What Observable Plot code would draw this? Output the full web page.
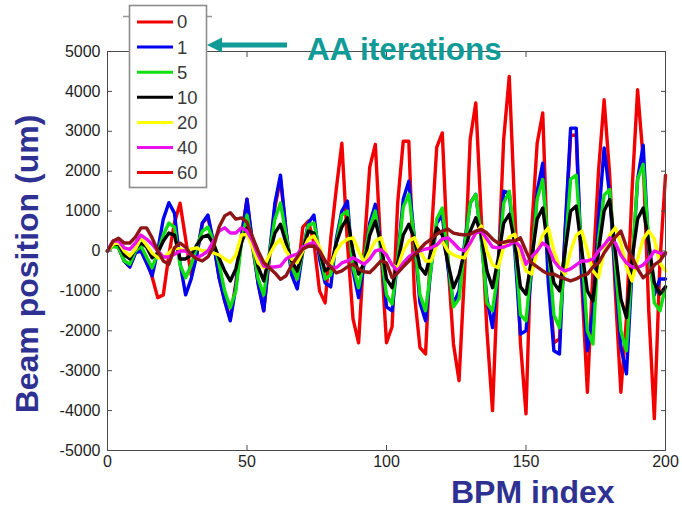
<!DOCTYPE html>
<html><head><meta charset="utf-8">
<script src="https://cdn.jsdelivr.net/npm/d3@7"></script>
<script src="https://cdn.jsdelivr.net/npm/@observablehq/plot@0.6"></script>
<style>
html,body{margin:0;padding:0;background:#fff;}
#wrap{position:relative;width:682px;height:509px;overflow:hidden;font-family:"Liberation Sans",Arial,sans-serif;}
#wrap > svg{position:absolute;left:0;top:0;}
</style></head><body><div id="wrap"></div>
<script>
// BPM index (x)
const bpm = [
  0, 2, 4, 6, 8, 10, 12, 14, 16, 18,
  20, 22, 24, 26, 28, 30, 32, 34, 36, 38,
  40, 42, 44, 46, 48, 50, 52, 54, 56, 58,
  60, 62, 64, 66, 68, 70, 72, 74, 76, 78,
  80, 82, 84, 86, 88, 90, 92, 94, 96, 98,
  100, 102, 104, 106, 108, 110, 112, 114, 116, 118,
  120, 122, 124, 126, 128, 130, 132, 134, 136, 138,
  140, 142, 144, 146, 148, 150, 152, 154, 156, 158,
  160, 162, 164, 166, 168, 170, 172, 174, 176, 178,
  180, 182, 184, 186, 188, 190, 192, 194, 196, 198,
  200];
// Beam position (um) after N AA iterations
const pos0 = [
  0, 170, 80, -250, -400, -50, 50, -200, -650, -1170,
  -1100, -100, 700, 1200, 300, -600, -100, 700, 850, 200,
  -650, -1250, -1700, -800, 400, 1300, 100, -800, -1500, -200,
  1100, 1800, 500, -500, -700, 600, 750, 200, -1000, -1300,
  300, 1550, 2700, 200, -1700, -2300, 80, 2100, 2670, 0,
  -2300, -1900, 1200, 2750, 2750, -1080, -2420, -2580, 300, 2600,
  2960, -250, -2330, -3250, -500, 2800, 3710, 800, -2000, -4000,
  -500, 2800, 4375, 1000, -2300, -4080, 500, 2700, 3460, -600,
  -2300, -2200, 400, 2900, 2900, -800, -3540, -500, 2000, 3790,
  1900, -1000, -3540, -1700, 1500, 4040, 2300, -1500, -4200, -300,
  1900];
const pos1 = [
  0, 170, 80, -250, -400, -50, 0, -300, -625, 0,
  800, 1210, 950, -300, -1100, -700, -100, 700, 900, 200,
  -670, -1250, -1750, -900, 300, 1300, 200, -830, -1500, -100,
  1200, 1900, 500, -600, -950, 0, 700, 900, -200, -800,
  -900, 300, 1000, 1250, -500, -1170, -300, 700, 1170, 100,
  -1400, -1500, -200, 1300, 1750, 300, -1300, -1750, -400, 700,
  900, -400, -1330, -1000, 200, 1200, 1420, 300, -1200, -1920,
  -500, 1500, 1450, 0, -2080, -2000, -500, 1500, 2200, -800,
  -2500, -2580, 500, 3080, 3080, -600, -2500, -1500, 800, 2580,
  1400, -600, -2400, -3080, -500, 1800, 2650, 0, -1100, -700,
  -700];
const pos5 = [
  0, 125, 80, -250, -330, 0, 125, -150, -420, -50,
  400, 700, 600, -350, -670, -350, 100, 500, 600, 250,
  -330, -1000, -1420, -1000, 200, 900, 150, -700, -1100, -100,
  800, 1200, 400, -400, -700, 0, 650, 700, 0, -700,
  -600, 200, 900, 1000, -400, -920, -200, 600, 1000, 0,
  -1100, -1330, -200, 1100, 1420, 300, -1100, -1500, -400, 800,
  1080, -200, -1400, -1200, 100, 1200, 1420, 300, -1300, -1500,
  -500, 1200, 1500, 200, -1600, -1750, -300, 1300, 1790, 100,
  -1600, -1920, 0, 1800, 1900, 0, -2000, -2330, 300, 1400,
  1540, -300, -2000, -2500, -300, 1800, 2170, 200, -1300, -1500,
  -900];
const pos10 = [
  0, 180, 170, -100, -200, 50, 210, 100, -170, -50,
  250, 450, 400, -200, -200, -100, 150, 350, 400, 170,
  -170, -500, -750, -450, 200, 580, 200, -400, -750, -100,
  450, 670, 200, -250, -500, 0, 500, 450, 0, -500,
  -400, 200, 600, 830, 0, -580, -300, 400, 750, 200,
  -700, -920, -300, 400, 670, 300, -400, -580, 0, 580,
  400, -300, -920, -600, 0, 500, 830, 400, -500, -920,
  -200, 700, 920, 200, -900, -1080, -200, 800, 1080, 0,
  -800, -1000, 0, 1000, 1125, 0, -1000, -1250, 0, 1000,
  1290, 0, -1200, -1670, -200, 800, 1080, 200, -800, -1080,
  -900];
const pos20 = [
  0, 170, 210, 0, -125, 50, 320, 150, -50, -170,
  -170, -50, 80, 50, 0, 50, 80, 0, 0, -50,
  -100, -200, -280, -100, 400, 420, 100, -300, -420, -100,
  150, 300, 0, -200, -290, 0, 300, 375, 100, -250,
  -375, 0, 200, 300, 330, 0, -290, 0, 250, 330,
  -100, -350, -420, 0, 250, 330, 0, -250, -250, 150,
  250, 0, -100, -150, -170, 200, 450, 625, 0, -350,
  -420, 100, 350, 420, -100, -500, -580, 0, 400, 580,
  0, -400, -580, 0, 400, 500, 0, -500, -670, 0,
  400, 580, 200, -400, -750, -200, 300, 500, 300, -300,
  -500];
const pos40 = [
  0, 250, 250, 80, 40, 200, 400, 300, 170, 0,
  -150, -150, -80, 0, 0, -100, -170, -100, 0, 250,
  500, 580, 450, 450, 580, 500, 250, -100, -375, -400,
  -400, -375, -200, -120, -80, 100, 170, 210, 0, -250,
  -400, -420, -300, -250, -170, -250, -330, -200, 0, 40,
  -100, -350, -500, -300, -150, -50, 0, 50, 80, 150,
  300, 330, 200, 50, 0, 200, 450, 500, 300, 100,
  80, 100, 150, 250, 100, -330, -150, 0, 200, 100,
  -250, -420, -500, -450, -350, -250, -250, -200, 0, 150,
  330, 200, -100, -300, -400, -420, -350, -200, 0, -50,
  -80];
const pos60 = [
  0, 250, 320, 200, 200, 350, 580, 580, 330, 0,
  -250, -330, 80, 200, 100, -100, -200, -250, -150, 100,
  600, 880, 960, 800, 830, 720, 350, 0, -290, -420,
  -550, -710, -620, -350, -150, 50, 120, 125, 0, -250,
  -400, -550, -500, -400, -330, -450, -520, -540, -400, -250,
  -300, -670, -550, -400, -250, -100, 50, 200, 300, 420,
  500, 550, 450, 420, 400, 420, 500, 540, 450, 300,
  200, 220, 250, 250, 330, 0, -300, -400, -500, -580,
  -580, -650, -700, -750, -700, -620, -580, -400, -300, -50,
  150, 350, 500, 100, -150, -450, -670, -550, -350, -250,
  -40];

const seriesNames = ["0", "1", "5", "10", "20", "40", "60"];
const seriesValues = [pos0, pos1, pos5, pos10, pos20, pos40, pos60];
const lineColors = ["#f20000", "#0000f0", "#10e010", "#000000", "#ffff00", "#ec10ec", "#8e1616"];
const legendColors = ["#f20000", "#0000f0", "#10e010", "#000000", "#ffff00", "#ec10ec", "#f20000"];
const xTicks = [0, 50, 100, 150, 200];
const yTicks = [-5000, -4000, -3000, -2000, -1000, 0, 1000, 2000, 3000, 4000, 5000];

const xLabel = "BPM index";
const yLabel = "Beam position (um)";
const noteText = "AA iterations";

const tables = seriesNames.map((name, i) =>
  bpm.map((b, j) => ({bpm: b, pos: seriesValues[i][j], series: name})));

const font = '"Liberation Sans", Arial, sans-serif';
const plot = Plot.plot({
  width: 682, height: 509,
  marginTop: 51, marginRight: 17, marginBottom: 59, marginLeft: 107,
  style: {fontFamily: font, fontSize: "16px", color: "#1e1e1e", background: "transparent", overflow: "visible"},
  x: {domain: [0, 200]},
  y: {domain: [-5000, 5000]},
  marks: [
    ...tables.map((t, i) => Plot.line(t, {x: "bpm", y: "pos", stroke: lineColors[i], strokeWidth: 3.4, strokeLinejoin: "round"})),
    Plot.frame({stroke: "#4a4a4a", strokeWidth: 1}),
    Plot.axisX({anchor: "bottom", ticks: xTicks, tickSize: -5, tickPadding: 10, label: null, stroke: "#4a4a4a"}),
    Plot.axisX({anchor: "top", ticks: xTicks, tickSize: -5, tickFormat: () => "", label: null, stroke: "#4a4a4a"}),
    Plot.axisY({anchor: "left", ticks: yTicks, tickSize: -5, tickPadding: 12, tickFormat: d => String(d), label: null, stroke: "#4a4a4a"}),
    Plot.axisY({anchor: "right", ticks: yTicks, tickSize: -5, tickFormat: () => "", label: null, stroke: "#4a4a4a"})
  ]
});
document.getElementById("wrap").appendChild(plot);

// overlay: legend, annotation, axis titles
const ov = d3.select("#wrap").append("svg").attr("width", 682).attr("height", 509)
  .style("position", "absolute").style("left", "0px").style("top", "0px");

const lg = ov.append("g");
lg.append("line").attr("x1", 123).attr("x2", 212).attr("y1", 16.5).attr("y2", 16.5)
  .attr("stroke", "#999").attr("stroke-width", 1.5);
lg.append("rect").attr("x", 129.5).attr("y", 5.5).attr("width", 77).attr("height", 182)
  .attr("fill", "#fff").attr("stroke", "#8c8c8c").attr("stroke-width", 1.6);
seriesNames.forEach((name, i) => {
  const y = 22 + i * 25.1;
  lg.append("line").attr("x1", 137).attr("x2", 173).attr("y1", y).attr("y2", y)
    .attr("stroke", legendColors[i]).attr("stroke-width", 3);
  lg.append("text").attr("x", 177).attr("y", y).attr("dy", "0.35em")
    .attr("font-family", font).attr("font-size", 18.5).attr("fill", "#3a3a3a").text(name);
});

const teal = "#119b97";
ov.append("path").attr("d", "M207,45 L222,37.5 L222,42.5 L287,42.5 L287,47.5 L222,47.5 L222,52.5 Z").attr("fill", teal);
ov.append("text").attr("x", 307).attr("y", 60).attr("font-family", font).attr("font-weight", "bold")
  .attr("font-size", 31.5).attr("fill", teal).text(noteText);

const navy = "#2e3192";
ov.append("text").attr("x", 451).attr("y", 503).attr("font-family", font).attr("font-weight", "bold")
  .attr("font-size", 32).attr("fill", navy).text(xLabel);
ov.append("text").attr("transform", "translate(38,264) rotate(-90)").attr("text-anchor", "middle")
  .attr("font-family", font).attr("font-weight", "bold").attr("font-size", 32).attr("fill", navy).text(yLabel);
</script></body></html>
